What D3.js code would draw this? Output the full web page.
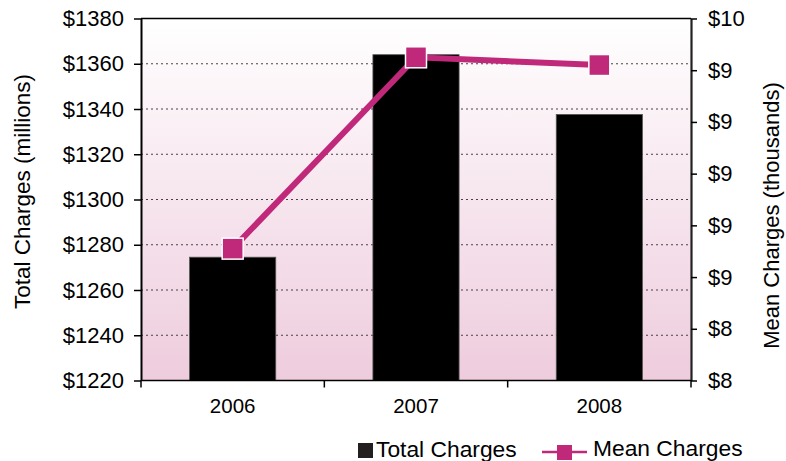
<!DOCTYPE html>
<html>
<head>
<meta charset="utf-8">
<script src="https://cdn.jsdelivr.net/npm/d3@7"></script>
<style>
  body { margin: 0; background: #ffffff; }
  text { font-family: "Liberation Sans", Arial, sans-serif; fill: #000; }
</style>
</head>
<body>
<svg id="chart" width="786" height="461"></svg>
<script>
// Hospital charges by year
const years = ["2006", "2007", "2008"];
const totalCharges = [1274.5, 1364, 1337.6];   // $ millions
const meanCharges = [8.71, 9.45, 9.42];        // $ thousands
const totalTicks = [1220, 1240, 1260, 1280, 1300, 1320, 1340, 1360, 1380];
const meanTicks = [8.2, 8.4, 8.6, 8.8, 9.0, 9.2, 9.4, 9.6];

const svg = d3.select("#chart");
const plot = { left: 141, right: 691, top: 18.5, bottom: 380.5 };
const barColor = "#000000";
const lineColor = "#C0287A";

const x = d3.scaleBand().domain(years).range([plot.left, plot.right]);
const yTotal = d3.scaleLinear().domain([totalTicks[0], totalTicks[totalTicks.length - 1]])
  .range([plot.bottom, plot.top]);
const yMean = d3.scaleLinear().domain([meanTicks[0], meanTicks[meanTicks.length - 1]])
  .range([plot.bottom, plot.top]);

// Plot background: white fading into pink toward the baseline
const defs = svg.append("defs");
const grad = defs.append("linearGradient").attr("id", "bg")
  .attr("x1", 0).attr("y1", 0).attr("x2", 0).attr("y2", 1);
grad.append("stop").attr("offset", "0%").attr("stop-color", "#ffffff");
grad.append("stop").attr("offset", "100%").attr("stop-color", "#EECCDD");
svg.append("rect")
  .attr("x", plot.left).attr("y", plot.top)
  .attr("width", plot.right - plot.left).attr("height", plot.bottom - plot.top)
  .attr("fill", "url(#bg)");

// Dotted gridlines on the inner left-axis ticks
svg.append("g").selectAll("line")
  .data(totalTicks.slice(1, -1))
  .join("line")
  .attr("x1", plot.left).attr("x2", plot.right)
  .attr("y1", d => yTotal(d)).attr("y2", d => yTotal(d))
  .attr("stroke", "#444").attr("stroke-width", 1)
  .attr("stroke-dasharray", "2,3");

// Bars
const barW = x.bandwidth() * 0.47;
svg.append("g").selectAll("rect")
  .data(years)
  .join("rect")
  .attr("x", (d) => x(d) + (x.bandwidth() - barW) / 2)
  .attr("y", (d, i) => yTotal(totalCharges[i]))
  .attr("width", barW)
  .attr("height", (d, i) => plot.bottom - yTotal(totalCharges[i]))
  .attr("fill", barColor)
  .attr("stroke", "#555").attr("stroke-width", 0.8);

// Top border
svg.append("line")
  .attr("x1", plot.left).attr("x2", plot.right)
  .attr("y1", plot.top).attr("y2", plot.top)
  .attr("stroke", "#000").attr("stroke-width", 1.5);

// Left axis
const axL = svg.append("g").attr("transform", `translate(${plot.left},0)`)
  .call(d3.axisLeft(yTotal).tickValues(totalTicks).tickFormat(d => "$" + d)
    .tickSize(7).tickPadding(10).tickSizeOuter(0));
axL.select(".domain").attr("stroke", "#000").attr("stroke-width", 2);
axL.selectAll(".tick line").attr("stroke", "#000").attr("stroke-width", 1.5);
axL.selectAll("text").attr("font-size", 22).attr("font-family", "Liberation Sans, Arial, sans-serif");

// Right axis
const axR = svg.append("g").attr("transform", `translate(${plot.right},0)`)
  .call(d3.axisRight(yMean).tickValues(meanTicks).tickFormat(d3.format("$.0f"))
    .tickSize(6).tickPadding(11).tickSizeOuter(0));
axR.select(".domain").attr("stroke", "#222").attr("stroke-width", 2.2);
axR.selectAll(".tick line").attr("stroke", "#000").attr("stroke-width", 1.5);
axR.selectAll("text").attr("font-size", 22).attr("font-family", "Liberation Sans, Arial, sans-serif");

// Bottom axis: ticks on category boundaries
const axB = svg.append("g").attr("transform", `translate(0,${plot.bottom})`);
axB.append("line").attr("x1", plot.left).attr("x2", plot.right)
  .attr("stroke", "#000").attr("stroke-width", 1.5);
axB.selectAll("line.b")
  .data(years.map(d => x(d)).concat([plot.right]))
  .join("line").attr("class", "b")
  .attr("x1", d => d).attr("x2", d => d)
  .attr("y1", 0).attr("y2", 7)
  .attr("stroke", "#000").attr("stroke-width", 1.5);
axB.selectAll("text")
  .data(years)
  .join("text")
  .attr("x", d => x(d) + x.bandwidth() / 2)
  .attr("y", 32)
  .attr("text-anchor", "middle")
  .attr("font-family", "Lato, 'Open Sans', sans-serif")
  .attr("font-size", 20.5)
  .text(d => d);

// Mean charges line
const line = d3.line()
  .x((d, i) => x(years[i]) + x.bandwidth() / 2)
  .y(d => yMean(d));
svg.append("path")
  .datum(meanCharges)
  .attr("d", line)
  .attr("fill", "none")
  .attr("stroke", lineColor)
  .attr("stroke-width", 6);

const mk = 21;
svg.append("g").selectAll("rect")
  .data(meanCharges)
  .join("rect")
  .attr("x", (d, i) => x(years[i]) + x.bandwidth() / 2 - mk / 2)
  .attr("y", d => yMean(d) - mk / 2)
  .attr("width", mk).attr("height", mk)
  .attr("fill", lineColor)
  .attr("stroke", "#ffffff").attr("stroke-width", 1.5);

// Axis titles
svg.append("text")
  .attr("transform", `translate(30,${(plot.top + plot.bottom) / 2 - 8}) rotate(-90)`)
  .attr("text-anchor", "middle")
  .attr("font-size", 22.5)
  .text("Total Charges (millions)");
svg.append("text")
  .attr("transform", `translate(779,${(plot.top + plot.bottom) / 2 + 16}) rotate(-90)`)
  .attr("text-anchor", "middle")
  .attr("font-size", 22)
  .text("Mean Charges (thousands)");

// Legend
const leg = svg.append("g");
leg.append("rect").attr("x", 358).attr("y", 443).attr("width", 15).attr("height", 15)
  .attr("fill", "#231f20");
leg.append("text").attr("x", 376).attr("y", 457).attr("font-size", 22.8).text("Total Charges");
leg.append("line").attr("x1", 542).attr("x2", 587).attr("y1", 452).attr("y2", 452)
  .attr("stroke", lineColor).attr("stroke-width", 2.5);
leg.append("rect").attr("x", 557).attr("y", 445).attr("width", 15).attr("height", 15)
  .attr("fill", lineColor);
leg.append("text").attr("x", 593).attr("y", 456).attr("font-size", 22.8).text("Mean Charges");
</script>
</body>
</html>
